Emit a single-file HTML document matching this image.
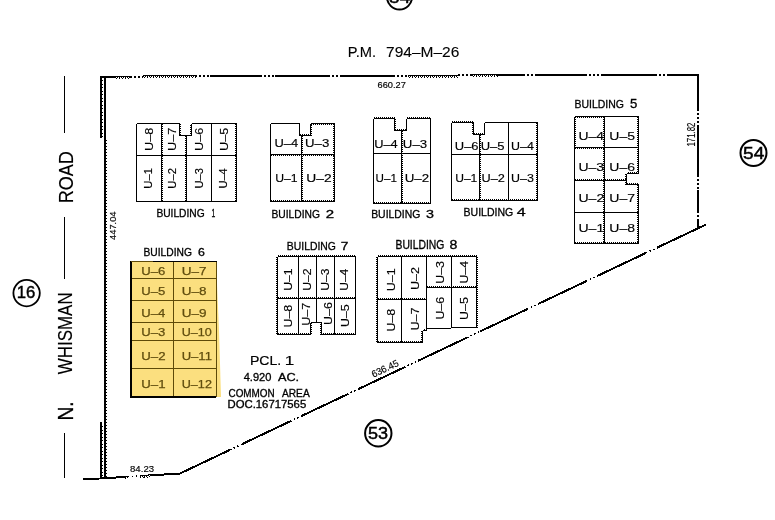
<!DOCTYPE html>
<html><head><meta charset="utf-8"><style>
html,body{margin:0;padding:0;background:#fff;width:775px;height:520px;overflow:hidden}
svg{display:block;will-change:transform}
text{font-family:"Liberation Sans",sans-serif}
</style></head><body>
<svg width="775" height="520" viewBox="0 0 775 520" font-family="Liberation Sans"><style>line,polygon,rect{shape-rendering:crispEdges} circle{shape-rendering:geometricPrecision}</style>
<rect width="775" height="520" fill="#fff"/>
<circle cx="399.5" cy="-3" r="12.5" fill="none" stroke="#000" stroke-width="2"/>
<g transform="translate(399.8,-3) rotate(0)"><text x="-10.76" y="6.00" font-size="17.14" font-weight="normal" fill="#000" stroke="#000" stroke-width="0.5" textLength="21.26" lengthAdjust="spacingAndGlyphs">54</text></g>
<circle cx="753.5" cy="153" r="13" fill="none" stroke="#000" stroke-width="2"/>
<g transform="translate(753.8,153) rotate(0)"><text x="-10.76" y="6.00" font-size="17.14" font-weight="normal" fill="#000" stroke="#000" stroke-width="0.5" textLength="21.26" lengthAdjust="spacingAndGlyphs">54</text></g>
<circle cx="26.6" cy="293.1" r="13.2" fill="none" stroke="#000" stroke-width="1.8"/>
<g transform="translate(26.4,292.6) rotate(0)"><text x="-9.57" y="5.80" font-size="16.57" font-weight="normal" fill="#000" stroke="#000" stroke-width="0.45" textLength="18.57" lengthAdjust="spacingAndGlyphs">16</text></g>
<circle cx="378.3" cy="433.3" r="13.2" fill="none" stroke="#000" stroke-width="2"/>
<g transform="translate(378.1,433.3) rotate(0)"><text x="-10.07" y="6.00" font-size="17.14" font-weight="normal" fill="#000" stroke="#000" stroke-width="0.5" textLength="20.07" lengthAdjust="spacingAndGlyphs">53</text></g>
<g transform="translate(361.9,51.85) rotate(0)"><text x="-14.07" y="4.85" font-size="14.06" font-weight="normal" fill="#000" stroke="#000" stroke-width="0.1" textLength="28.26" lengthAdjust="spacingAndGlyphs">P.M.</text></g>
<g transform="translate(422.75,51.85) rotate(0)"><text x="-36.72" y="4.85" font-size="13.86" font-weight="normal" fill="#000" stroke="#000" stroke-width="0.1" textLength="73.24" lengthAdjust="spacingAndGlyphs">794–M–26</text></g>
<line x1="100" y1="77" x2="115" y2="77" stroke="#000" stroke-width="2"/>
<line x1="115" y1="76.5" x2="130" y2="76.5" stroke="#000" stroke-width="1"/>
<line x1="115" y1="77.5" x2="130" y2="77.5" stroke="#000" stroke-width="1" stroke-dasharray="1 1"/>
<line x1="115.5" y1="78.5" x2="130.5" y2="78.5" stroke="#000" stroke-width="1" stroke-dasharray="1 2"/>
<line x1="130" y1="77" x2="143" y2="77" stroke="#000" stroke-width="1.5" stroke-dasharray="1.5 2.5"/>
<line x1="143" y1="75.5" x2="195" y2="75.5" stroke="#000" stroke-width="1"/>
<line x1="143" y1="76.5" x2="195" y2="76.5" stroke="#000" stroke-width="1" stroke-dasharray="1 1"/>
<line x1="143.5" y1="77.5" x2="195.5" y2="77.5" stroke="#000" stroke-width="1" stroke-dasharray="1 2"/>
<line x1="195" y1="76" x2="210" y2="76" stroke="#000" stroke-width="1.5" stroke-dasharray="1.5 2.5"/>
<line x1="210" y1="76" x2="260" y2="76" stroke="#000" stroke-width="2"/>
<line x1="260" y1="76" x2="275" y2="76" stroke="#000" stroke-width="1.5" stroke-dasharray="1.5 2.5"/>
<line x1="275" y1="76" x2="328" y2="76" stroke="#000" stroke-width="2"/>
<line x1="328" y1="76" x2="340" y2="76" stroke="#000" stroke-width="1.5" stroke-dasharray="1.5 2.5"/>
<line x1="340" y1="76" x2="393" y2="76" stroke="#000" stroke-width="2"/>
<line x1="393" y1="76" x2="408" y2="76" stroke="#000" stroke-width="1.5" stroke-dasharray="1.5 2.5"/>
<line x1="408" y1="75.5" x2="458" y2="75.5" stroke="#000" stroke-width="1"/>
<line x1="408" y1="76.5" x2="458" y2="76.5" stroke="#000" stroke-width="1" stroke-dasharray="1 1"/>
<line x1="408.5" y1="77.5" x2="458.5" y2="77.5" stroke="#000" stroke-width="1" stroke-dasharray="1 2"/>
<line x1="458" y1="75" x2="472" y2="75" stroke="#000" stroke-width="1.5" stroke-dasharray="1.5 2.5"/>
<line x1="472" y1="74.5" x2="497" y2="74.5" stroke="#000" stroke-width="1"/>
<line x1="472" y1="75.5" x2="497" y2="75.5" stroke="#000" stroke-width="1" stroke-dasharray="1 1"/>
<line x1="472.5" y1="76.5" x2="497.5" y2="76.5" stroke="#000" stroke-width="1" stroke-dasharray="1 2"/>
<line x1="497" y1="75" x2="523" y2="75" stroke="#000" stroke-width="2"/>
<line x1="523" y1="75" x2="537" y2="75" stroke="#000" stroke-width="1.5" stroke-dasharray="1.5 2.5"/>
<line x1="537" y1="75" x2="585" y2="75" stroke="#000" stroke-width="2"/>
<line x1="585" y1="75" x2="603" y2="75" stroke="#000" stroke-width="1.5" stroke-dasharray="1.5 2.5"/>
<line x1="603" y1="75" x2="655" y2="75" stroke="#000" stroke-width="2"/>
<line x1="655" y1="75" x2="668" y2="75" stroke="#000" stroke-width="1.5" stroke-dasharray="1.5 2.5"/>
<line x1="668" y1="75" x2="699" y2="75" stroke="#000" stroke-width="2"/>
<line x1="698" y1="74" x2="698" y2="109" stroke="#000" stroke-width="2"/>
<line x1="698" y1="109" x2="698" y2="127" stroke="#000" stroke-width="1.5" stroke-dasharray="1.5 2.5"/>
<line x1="698" y1="127" x2="698" y2="175" stroke="#000" stroke-width="2"/>
<line x1="698" y1="175" x2="698" y2="190" stroke="#000" stroke-width="1.5" stroke-dasharray="1.5 2.5"/>
<line x1="698" y1="190" x2="698" y2="211" stroke="#000" stroke-width="2"/>
<line x1="698" y1="211" x2="698" y2="219" stroke="#000" stroke-width="1.5" stroke-dasharray="1.5 2.5"/>
<line x1="698" y1="219" x2="698" y2="227" stroke="#000" stroke-width="2"/>
<line x1="180" y1="473.5" x2="230" y2="449.83079847908743" stroke="#000" stroke-width="2"/>
<line x1="230" y1="449.83079847908743" x2="242" y2="444.15019011406844" stroke="#000" stroke-width="1.5" stroke-dasharray="1.5 2.5"/>
<line x1="242" y1="444.15019011406844" x2="290" y2="421.4277566539924" stroke="#000" stroke-width="2"/>
<line x1="290" y1="421.4277566539924" x2="301" y2="416.2205323193916" stroke="#000" stroke-width="1.5" stroke-dasharray="1.5 2.5"/>
<line x1="301" y1="416.2205323193916" x2="347" y2="394.4448669201521" stroke="#000" stroke-width="2"/>
<line x1="347" y1="394.4448669201521" x2="359" y2="388.7642585551331" stroke="#000" stroke-width="1.5" stroke-dasharray="1.5 2.5"/>
<line x1="359" y1="388.7642585551331" x2="404" y2="367.4619771863118" stroke="#000" stroke-width="2"/>
<line x1="404" y1="367.4619771863118" x2="418" y2="360.8346007604563" stroke="#000" stroke-width="1.5" stroke-dasharray="1.5 2.5"/>
<line x1="418" y1="360.8346007604563" x2="467" y2="337.638783269962" stroke="#000" stroke-width="2"/>
<line x1="467" y1="337.638783269962" x2="480" y2="331.4847908745247" stroke="#000" stroke-width="1.5" stroke-dasharray="1.5 2.5"/>
<line x1="480" y1="331.4847908745247" x2="527" y2="309.2357414448669" stroke="#000" stroke-width="2"/>
<line x1="527" y1="309.2357414448669" x2="539" y2="303.5551330798479" stroke="#000" stroke-width="1.5" stroke-dasharray="1.5 2.5"/>
<line x1="539" y1="303.5551330798479" x2="586" y2="281.3060836501901" stroke="#000" stroke-width="2"/>
<line x1="586" y1="281.3060836501901" x2="597" y2="276.0988593155894" stroke="#000" stroke-width="1.5" stroke-dasharray="1.5 2.5"/>
<line x1="597" y1="276.0988593155894" x2="646" y2="252.90304182509504" stroke="#000" stroke-width="2"/>
<line x1="646" y1="252.90304182509504" x2="657" y2="247.6958174904943" stroke="#000" stroke-width="1.5" stroke-dasharray="1.5 2.5"/>
<line x1="657" y1="247.6958174904943" x2="706" y2="224.5" stroke="#000" stroke-width="2"/>
<line x1="83.5" y1="479.5" x2="125" y2="476.9329896907216" stroke="#000" stroke-width="2"/>
<line x1="125" y1="476.4329896907216" x2="128" y2="476.2474226804124" stroke="#000" stroke-width="1"/>
<line x1="125" y1="477.4329896907216" x2="128" y2="477.2474226804124" stroke="#000" stroke-width="1" stroke-dasharray="1 1"/>
<line x1="125.5" y1="478.4329896907216" x2="128.5" y2="478.2474226804124" stroke="#000" stroke-width="1" stroke-dasharray="1 2"/>
<line x1="128" y1="476.7474226804124" x2="140" y2="476.00515463917526" stroke="#000" stroke-width="1.5" stroke-dasharray="1.5 2.5"/>
<line x1="140" y1="475.50515463917526" x2="150" y2="474.88659793814435" stroke="#000" stroke-width="1"/>
<line x1="140" y1="476.50515463917526" x2="150" y2="475.88659793814435" stroke="#000" stroke-width="1" stroke-dasharray="1 1"/>
<line x1="140.5" y1="477.50515463917526" x2="150.5" y2="476.88659793814435" stroke="#000" stroke-width="1" stroke-dasharray="1 2"/>
<line x1="150" y1="475.38659793814435" x2="180.5" y2="473.5" stroke="#000" stroke-width="2"/>
<line x1="105" y1="76" x2="105" y2="478.5" stroke="#000" stroke-width="2"/>
<line x1="101" y1="76" x2="101" y2="138" stroke="#000" stroke-width="2"/>
<line x1="106.5" y1="140" x2="106.5" y2="478" stroke="#000" stroke-width="1" stroke-dasharray="1 2"/>
<line x1="101" y1="422" x2="101" y2="478.5" stroke="#000" stroke-width="2"/>
<line x1="102.5" y1="80" x2="102.5" y2="138" stroke="#000" stroke-width="1" stroke-dasharray="1 2.5"/>
<line x1="102.5" y1="426" x2="102.5" y2="478" stroke="#000" stroke-width="1" stroke-dasharray="1 2.5"/>
<line x1="64.5" y1="76" x2="64.5" y2="133" stroke="#000" stroke-width="1"/>
<line x1="64.5" y1="217" x2="64.5" y2="279" stroke="#000" stroke-width="1"/>
<line x1="64.5" y1="433" x2="64.5" y2="478" stroke="#000" stroke-width="1"/>
<g transform="translate(65.6,177) rotate(-90)"><text x="-26.34" y="7.20" font-size="20.57" font-weight="normal" fill="#000" stroke="#000" stroke-width="0.15" textLength="52.00" lengthAdjust="spacingAndGlyphs">ROAD</text></g>
<g transform="translate(65.3,333.9) rotate(-90)"><text x="-40.30" y="7.05" font-size="19.86" font-weight="normal" fill="#000" stroke="#000" stroke-width="0.15" textLength="81.82" lengthAdjust="spacingAndGlyphs">WHISMAN</text></g>
<g transform="translate(65.4,411) rotate(-90)"><text x="-9.54" y="7.50" font-size="21.74" font-weight="normal" fill="#000" stroke="#000" stroke-width="0.3" textLength="19.23" lengthAdjust="spacingAndGlyphs">N.</text></g>
<g transform="translate(391.7,84.85) rotate(0)"><text x="-14.16" y="2.85" font-size="8.14" font-weight="normal" fill="#000" stroke="#000" stroke-width="0.15" textLength="28.29" lengthAdjust="spacingAndGlyphs">660.27</text></g>
<g transform="translate(691.5,134.5) rotate(-90)"><text x="-12.05" y="3.50" font-size="10.00" font-weight="normal" fill="#000" stroke="#000" stroke-width="0.15" textLength="23.91" lengthAdjust="spacingAndGlyphs">171.82</text></g>
<g transform="translate(112.4,225.7) rotate(-90)"><text x="-14.19" y="3.40" font-size="9.71" font-weight="normal" fill="#000" stroke="#000" stroke-width="0.15" textLength="28.43" lengthAdjust="spacingAndGlyphs">447.04</text></g>
<g transform="translate(142.05,468.85) rotate(0)"><text x="-12.03" y="3.15" font-size="9.00" font-weight="normal" fill="#000" stroke="#000" stroke-width="0.15" textLength="24.03" lengthAdjust="spacingAndGlyphs">84.23</text></g>
<g transform="translate(385,368.5) rotate(-25.5)"><text x="-14.47" y="3.40" font-size="9.71" font-weight="normal" fill="#000" stroke="#000" stroke-width="0.15" textLength="28.81" lengthAdjust="spacingAndGlyphs">636.45</text></g>
<line x1="136.5" y1="123.5" x2="179.5" y2="123.5" stroke="#000" stroke-width="1"/>
<line x1="179.5" y1="123.5" x2="179.5" y2="135.5" stroke="#000" stroke-width="1"/>
<line x1="180.5" y1="123.5" x2="180.5" y2="135.5" stroke="#000" stroke-width="1" stroke-dasharray="1 1"/>
<line x1="179.5" y1="135.5" x2="191.5" y2="135.5" stroke="#000" stroke-width="1"/>
<line x1="191.5" y1="135.5" x2="191.5" y2="123.5" stroke="#000" stroke-width="1"/>
<line x1="190.5" y1="135.5" x2="190.5" y2="123.5" stroke="#000" stroke-width="1" stroke-dasharray="1 1"/>
<line x1="191.5" y1="123.5" x2="236.5" y2="123.5" stroke="#000" stroke-width="1"/>
<line x1="236.5" y1="123.5" x2="236.5" y2="201.5" stroke="#000" stroke-width="1"/>
<line x1="235.5" y1="123.5" x2="235.5" y2="201.5" stroke="#000" stroke-width="1" stroke-dasharray="1 1"/>
<line x1="136.5" y1="201.5" x2="236.5" y2="201.5" stroke="#000" stroke-width="1"/>
<line x1="136.5" y1="123.5" x2="136.5" y2="201.5" stroke="#000" stroke-width="1"/>
<line x1="136.5" y1="155.5" x2="236.5" y2="155.5" stroke="#000" stroke-width="1"/>
<line x1="161.5" y1="123.5" x2="161.5" y2="201.5" stroke="#000" stroke-width="1"/>
<line x1="162.5" y1="123.5" x2="162.5" y2="201.5" stroke="#000" stroke-width="1" stroke-dasharray="1 1"/>
<line x1="186.5" y1="135.5" x2="186.5" y2="201.5" stroke="#000" stroke-width="1"/>
<line x1="185.5" y1="135.5" x2="185.5" y2="201.5" stroke="#000" stroke-width="1" stroke-dasharray="1 1"/>
<line x1="211.5" y1="123.5" x2="211.5" y2="201.5" stroke="#000" stroke-width="1"/>
<g transform="translate(148.6,139.1) rotate(-90)"><text x="-11.89" y="4.00" font-size="11.43" font-weight="normal" fill="#000" stroke="#000" stroke-width="0.15" textLength="23.35" lengthAdjust="spacingAndGlyphs">U–8</text></g>
<g transform="translate(148.6,178.2) rotate(-90)"><text x="-10.44" y="3.75" font-size="10.87" font-weight="normal" fill="#000" stroke="#000" stroke-width="0.15" textLength="20.60" lengthAdjust="spacingAndGlyphs">U–1</text></g>
<g transform="translate(172.4,139.1) rotate(-90)"><text x="-11.90" y="4.00" font-size="11.43" font-weight="normal" fill="#000" stroke="#000" stroke-width="0.15" textLength="23.49" lengthAdjust="spacingAndGlyphs">U–7</text></g>
<g transform="translate(172.4,178.2) rotate(-90)"><text x="-10.44" y="3.75" font-size="10.71" font-weight="normal" fill="#000" stroke="#000" stroke-width="0.15" textLength="20.60" lengthAdjust="spacingAndGlyphs">U–2</text></g>
<g transform="translate(199.4,139.1) rotate(-90)"><text x="-11.89" y="4.00" font-size="11.43" font-weight="normal" fill="#000" stroke="#000" stroke-width="0.15" textLength="23.35" lengthAdjust="spacingAndGlyphs">U–6</text></g>
<g transform="translate(199.4,178.2) rotate(-90)"><text x="-10.43" y="3.75" font-size="10.71" font-weight="normal" fill="#000" stroke="#000" stroke-width="0.15" textLength="20.49" lengthAdjust="spacingAndGlyphs">U–3</text></g>
<g transform="translate(223.6,139.1) rotate(-90)"><text x="-11.89" y="4.00" font-size="11.59" font-weight="normal" fill="#000" stroke="#000" stroke-width="0.15" textLength="23.35" lengthAdjust="spacingAndGlyphs">U–5</text></g>
<g transform="translate(223.6,178.2) rotate(-90)"><text x="-10.43" y="3.75" font-size="10.71" font-weight="normal" fill="#000" stroke="#000" stroke-width="0.15" textLength="20.37" lengthAdjust="spacingAndGlyphs">U–4</text></g>
<g transform="translate(180.6,213.0) rotate(0)"><text x="-24.22" y="4.00" font-size="11.43" font-weight="normal" fill="#000" stroke="#000" stroke-width="0.32" textLength="48.31" lengthAdjust="spacingAndGlyphs">BUILDING</text></g>
<g transform="translate(213.5,213.0) rotate(0)"><text x="-1.98" y="4.00" font-size="11.59" font-weight="normal" fill="#000" stroke="#000" stroke-width="0.32" textLength="3.79" lengthAdjust="spacingAndGlyphs">1</text></g>
<line x1="270.5" y1="123.5" x2="299.5" y2="123.5" stroke="#000" stroke-width="1"/>
<line x1="299.5" y1="123.5" x2="299.5" y2="135.5" stroke="#000" stroke-width="1"/>
<line x1="299.5" y1="135.5" x2="310.5" y2="135.5" stroke="#000" stroke-width="1"/>
<line x1="299.5" y1="134.5" x2="310.5" y2="134.5" stroke="#000" stroke-width="1" stroke-dasharray="1 1"/>
<line x1="310.5" y1="135.5" x2="310.5" y2="123.5" stroke="#000" stroke-width="1"/>
<line x1="311.5" y1="135.5" x2="311.5" y2="123.5" stroke="#000" stroke-width="1" stroke-dasharray="1 1"/>
<line x1="310.5" y1="123.5" x2="334.5" y2="123.5" stroke="#000" stroke-width="1"/>
<line x1="310.5" y1="124.5" x2="334.5" y2="124.5" stroke="#000" stroke-width="1" stroke-dasharray="1 1"/>
<line x1="334.5" y1="123.5" x2="334.5" y2="201.5" stroke="#000" stroke-width="1"/>
<line x1="333.5" y1="123.5" x2="333.5" y2="201.5" stroke="#000" stroke-width="1" stroke-dasharray="1 1"/>
<line x1="270.5" y1="201.5" x2="334.5" y2="201.5" stroke="#000" stroke-width="1"/>
<line x1="270.5" y1="200.5" x2="334.5" y2="200.5" stroke="#000" stroke-width="1" stroke-dasharray="1 1"/>
<line x1="270.5" y1="123.5" x2="270.5" y2="201.5" stroke="#000" stroke-width="1"/>
<line x1="270.5" y1="154.5" x2="334.5" y2="154.5" stroke="#000" stroke-width="1"/>
<line x1="270.5" y1="155.5" x2="334.5" y2="155.5" stroke="#000" stroke-width="1" stroke-dasharray="1 1"/>
<line x1="301.5" y1="135.5" x2="301.5" y2="201.5" stroke="#000" stroke-width="1"/>
<line x1="302.5" y1="135.5" x2="302.5" y2="201.5" stroke="#000" stroke-width="1" stroke-dasharray="1 1"/>
<g transform="translate(286.6,143.3) rotate(0)"><text x="-12.10" y="3.75" font-size="10.71" font-weight="normal" fill="#000" stroke="#000" stroke-width="0.15" textLength="23.64" lengthAdjust="spacingAndGlyphs">U–4</text></g>
<g transform="translate(317.4,143.3) rotate(0)"><text x="-12.32" y="3.75" font-size="10.71" font-weight="normal" fill="#000" stroke="#000" stroke-width="0.15" textLength="24.20" lengthAdjust="spacingAndGlyphs">U–3</text></g>
<g transform="translate(286.6,178.1) rotate(0)"><text x="-11.36" y="3.75" font-size="10.87" font-weight="normal" fill="#000" stroke="#000" stroke-width="0.15" textLength="22.42" lengthAdjust="spacingAndGlyphs">U–1</text></g>
<g transform="translate(319.1,178.1) rotate(0)"><text x="-12.82" y="3.75" font-size="10.71" font-weight="normal" fill="#000" stroke="#000" stroke-width="0.15" textLength="25.30" lengthAdjust="spacingAndGlyphs">U–2</text></g>
<g transform="translate(295.7,214.4) rotate(0)"><text x="-24.32" y="4.00" font-size="11.43" font-weight="normal" fill="#000" stroke="#000" stroke-width="0.32" textLength="48.52" lengthAdjust="spacingAndGlyphs">BUILDING</text></g>
<g transform="translate(329.85,214.4) rotate(0)"><text x="-4.20" y="4.00" font-size="11.43" font-weight="normal" fill="#000" stroke="#000" stroke-width="0.32" textLength="8.34" lengthAdjust="spacingAndGlyphs">2</text></g>
<line x1="373.5" y1="118.5" x2="394.5" y2="118.5" stroke="#000" stroke-width="1"/>
<line x1="373.5" y1="117.5" x2="394.5" y2="117.5" stroke="#000" stroke-width="1" stroke-dasharray="1 1"/>
<line x1="394.5" y1="118.5" x2="394.5" y2="130.5" stroke="#000" stroke-width="1"/>
<line x1="395.5" y1="118.5" x2="395.5" y2="130.5" stroke="#000" stroke-width="1" stroke-dasharray="1 1"/>
<line x1="394.5" y1="130.5" x2="406.5" y2="130.5" stroke="#000" stroke-width="1"/>
<line x1="394.5" y1="129.5" x2="406.5" y2="129.5" stroke="#000" stroke-width="1" stroke-dasharray="1 1"/>
<line x1="406.5" y1="130.5" x2="406.5" y2="118.5" stroke="#000" stroke-width="1"/>
<line x1="406.5" y1="118.5" x2="430.5" y2="118.5" stroke="#000" stroke-width="1"/>
<line x1="406.5" y1="117.5" x2="430.5" y2="117.5" stroke="#000" stroke-width="1" stroke-dasharray="1 1"/>
<line x1="430.5" y1="118.5" x2="430.5" y2="203.5" stroke="#000" stroke-width="1"/>
<line x1="373.5" y1="203.5" x2="430.5" y2="203.5" stroke="#000" stroke-width="1"/>
<line x1="373.5" y1="202.5" x2="430.5" y2="202.5" stroke="#000" stroke-width="1" stroke-dasharray="1 1"/>
<line x1="373.5" y1="118.5" x2="373.5" y2="203.5" stroke="#000" stroke-width="1"/>
<line x1="373.5" y1="153.5" x2="430.5" y2="153.5" stroke="#000" stroke-width="1"/>
<line x1="401.5" y1="130.5" x2="401.5" y2="203.5" stroke="#000" stroke-width="1"/>
<line x1="402.5" y1="130.5" x2="402.5" y2="203.5" stroke="#000" stroke-width="1" stroke-dasharray="1 1"/>
<g transform="translate(386.2,143.5) rotate(0)"><text x="-12.05" y="4.00" font-size="11.43" font-weight="normal" fill="#000" stroke="#000" stroke-width="0.15" textLength="23.53" lengthAdjust="spacingAndGlyphs">U–4</text></g>
<g transform="translate(415.2,143.5) rotate(0)"><text x="-12.38" y="4.00" font-size="11.43" font-weight="normal" fill="#000" stroke="#000" stroke-width="0.15" textLength="24.31" lengthAdjust="spacingAndGlyphs">U–3</text></g>
<g transform="translate(386.4,178.2) rotate(0)"><text x="-10.81" y="4.00" font-size="11.59" font-weight="normal" fill="#000" stroke="#000" stroke-width="0.15" textLength="21.35" lengthAdjust="spacingAndGlyphs">U–1</text></g>
<g transform="translate(417,178.2) rotate(0)"><text x="-12.38" y="4.00" font-size="11.43" font-weight="normal" fill="#000" stroke="#000" stroke-width="0.15" textLength="24.45" lengthAdjust="spacingAndGlyphs">U–2</text></g>
<g transform="translate(395.8,214.2) rotate(0)"><text x="-24.63" y="4.00" font-size="11.43" font-weight="normal" fill="#000" stroke="#000" stroke-width="0.32" textLength="49.14" lengthAdjust="spacingAndGlyphs">BUILDING</text></g>
<g transform="translate(430.0,214.2) rotate(0)"><text x="-3.93" y="4.00" font-size="11.43" font-weight="normal" fill="#000" stroke="#000" stroke-width="0.32" textLength="7.95" lengthAdjust="spacingAndGlyphs">3</text></g>
<line x1="451.5" y1="122.5" x2="473.5" y2="122.5" stroke="#000" stroke-width="1"/>
<line x1="451.5" y1="121.5" x2="473.5" y2="121.5" stroke="#000" stroke-width="1" stroke-dasharray="1 1"/>
<line x1="473.5" y1="122.5" x2="473.5" y2="134.5" stroke="#000" stroke-width="1"/>
<line x1="472.5" y1="122.5" x2="472.5" y2="134.5" stroke="#000" stroke-width="1" stroke-dasharray="1 1"/>
<line x1="473.5" y1="134.5" x2="484.5" y2="134.5" stroke="#000" stroke-width="1"/>
<line x1="473.5" y1="133.5" x2="484.5" y2="133.5" stroke="#000" stroke-width="1" stroke-dasharray="1 1"/>
<line x1="484.5" y1="134.5" x2="484.5" y2="122.5" stroke="#000" stroke-width="1"/>
<line x1="484.5" y1="122.5" x2="537.5" y2="122.5" stroke="#000" stroke-width="1"/>
<line x1="537.5" y1="122.5" x2="537.5" y2="200.5" stroke="#000" stroke-width="1"/>
<line x1="536.5" y1="122.5" x2="536.5" y2="200.5" stroke="#000" stroke-width="1" stroke-dasharray="1 1"/>
<line x1="451.5" y1="200.5" x2="537.5" y2="200.5" stroke="#000" stroke-width="1"/>
<line x1="451.5" y1="199.5" x2="537.5" y2="199.5" stroke="#000" stroke-width="1" stroke-dasharray="1 1"/>
<line x1="451.5" y1="122.5" x2="451.5" y2="200.5" stroke="#000" stroke-width="1"/>
<line x1="451.5" y1="154.5" x2="537.5" y2="154.5" stroke="#000" stroke-width="1"/>
<line x1="479.5" y1="134.5" x2="479.5" y2="200.5" stroke="#000" stroke-width="1"/>
<line x1="480.5" y1="134.5" x2="480.5" y2="200.5" stroke="#000" stroke-width="1" stroke-dasharray="1 1"/>
<line x1="508.5" y1="122.5" x2="508.5" y2="200.5" stroke="#000" stroke-width="1"/>
<g transform="translate(466.9,145.7) rotate(0)"><text x="-12.11" y="3.90" font-size="11.14" font-weight="normal" fill="#000" stroke="#000" stroke-width="0.15" textLength="23.78" lengthAdjust="spacingAndGlyphs">U–6</text></g>
<g transform="translate(492.8,145.7) rotate(0)"><text x="-12.16" y="3.90" font-size="11.30" font-weight="normal" fill="#000" stroke="#000" stroke-width="0.15" textLength="23.88" lengthAdjust="spacingAndGlyphs">U–5</text></g>
<g transform="translate(522.7,145.7) rotate(0)"><text x="-11.67" y="3.90" font-size="11.14" font-weight="normal" fill="#000" stroke="#000" stroke-width="0.15" textLength="22.79" lengthAdjust="spacingAndGlyphs">U–4</text></g>
<g transform="translate(466.4,177.7) rotate(0)"><text x="-11.25" y="3.90" font-size="11.30" font-weight="normal" fill="#000" stroke="#000" stroke-width="0.15" textLength="22.21" lengthAdjust="spacingAndGlyphs">U–1</text></g>
<g transform="translate(493.4,177.7) rotate(0)"><text x="-11.84" y="3.90" font-size="11.14" font-weight="normal" fill="#000" stroke="#000" stroke-width="0.15" textLength="23.38" lengthAdjust="spacingAndGlyphs">U–2</text></g>
<g transform="translate(522.7,177.7) rotate(0)"><text x="-11.62" y="3.90" font-size="11.14" font-weight="normal" fill="#000" stroke="#000" stroke-width="0.15" textLength="22.82" lengthAdjust="spacingAndGlyphs">U–3</text></g>
<g transform="translate(488.45,211.85000000000002) rotate(0)"><text x="-24.89" y="4.05" font-size="11.57" font-weight="normal" fill="#000" stroke="#000" stroke-width="0.32" textLength="49.65" lengthAdjust="spacingAndGlyphs">BUILDING</text></g>
<g transform="translate(521.1,211.85000000000002) rotate(0)"><text x="-4.42" y="4.05" font-size="11.57" font-weight="normal" fill="#000" stroke="#000" stroke-width="0.32" textLength="8.94" lengthAdjust="spacingAndGlyphs">4</text></g>
<g transform="translate(599.25,104.0) rotate(0)"><text x="-24.79" y="4.10" font-size="11.71" font-weight="normal" fill="#000" stroke="#000" stroke-width="0.32" textLength="49.45" lengthAdjust="spacingAndGlyphs">BUILDING</text></g>
<g transform="translate(633.65,104.0) rotate(0)"><text x="-3.67" y="4.10" font-size="11.88" font-weight="normal" fill="#000" stroke="#000" stroke-width="0.32" textLength="7.30" lengthAdjust="spacingAndGlyphs">5</text></g>
<line x1="574.5" y1="116.5" x2="604.5" y2="116.5" stroke="#000" stroke-width="1"/>
<line x1="574.5" y1="117.5" x2="604.5" y2="117.5" stroke="#000" stroke-width="1" stroke-dasharray="1 1"/>
<line x1="604.5" y1="116.5" x2="638.5" y2="116.5" stroke="#000" stroke-width="1"/>
<line x1="638.5" y1="116.5" x2="638.5" y2="173.5" stroke="#000" stroke-width="1"/>
<line x1="637.5" y1="116.5" x2="637.5" y2="173.5" stroke="#000" stroke-width="1" stroke-dasharray="1 1"/>
<line x1="638.5" y1="173.5" x2="626.5" y2="173.5" stroke="#000" stroke-width="1"/>
<line x1="638.5" y1="172.5" x2="626.5" y2="172.5" stroke="#000" stroke-width="1" stroke-dasharray="1 1"/>
<line x1="626.5" y1="173.5" x2="626.5" y2="184.5" stroke="#000" stroke-width="1"/>
<line x1="625.5" y1="173.5" x2="625.5" y2="184.5" stroke="#000" stroke-width="1" stroke-dasharray="1 1"/>
<line x1="626.5" y1="184.5" x2="638.5" y2="184.5" stroke="#000" stroke-width="1"/>
<line x1="626.5" y1="183.5" x2="638.5" y2="183.5" stroke="#000" stroke-width="1" stroke-dasharray="1 1"/>
<line x1="638.5" y1="184.5" x2="638.5" y2="243.5" stroke="#000" stroke-width="1"/>
<line x1="637.5" y1="184.5" x2="637.5" y2="243.5" stroke="#000" stroke-width="1" stroke-dasharray="1 1"/>
<line x1="574.5" y1="243.5" x2="638.5" y2="243.5" stroke="#000" stroke-width="1"/>
<line x1="574.5" y1="242.5" x2="638.5" y2="242.5" stroke="#000" stroke-width="1" stroke-dasharray="1 1"/>
<line x1="574.5" y1="116.5" x2="574.5" y2="147.5" stroke="#000" stroke-width="1"/>
<line x1="575.5" y1="116.5" x2="575.5" y2="147.5" stroke="#000" stroke-width="1" stroke-dasharray="1 1"/>
<line x1="574.5" y1="147.5" x2="574.5" y2="243.5" stroke="#000" stroke-width="1"/>
<line x1="574.5" y1="147.5" x2="604.5" y2="147.5" stroke="#000" stroke-width="1"/>
<line x1="574.5" y1="148.5" x2="604.5" y2="148.5" stroke="#000" stroke-width="1" stroke-dasharray="1 1"/>
<line x1="604.5" y1="147.5" x2="638.5" y2="147.5" stroke="#000" stroke-width="1"/>
<line x1="574.5" y1="180.5" x2="626.5" y2="180.5" stroke="#000" stroke-width="1"/>
<line x1="574.5" y1="179.5" x2="626.5" y2="179.5" stroke="#000" stroke-width="1" stroke-dasharray="1 1"/>
<line x1="574.5" y1="212.5" x2="638.5" y2="212.5" stroke="#000" stroke-width="1"/>
<line x1="604.5" y1="116.5" x2="604.5" y2="243.5" stroke="#000" stroke-width="1"/>
<line x1="603.5" y1="116.5" x2="603.5" y2="243.5" stroke="#000" stroke-width="1" stroke-dasharray="1 1"/>
<g transform="translate(591.5,135.5) rotate(0)"><text x="-13.07" y="4.00" font-size="11.43" font-weight="normal" fill="#000" stroke="#000" stroke-width="0.15" textLength="25.54" lengthAdjust="spacingAndGlyphs">U–4</text></g>
<g transform="translate(622.4,135.5) rotate(0)"><text x="-13.08" y="4.00" font-size="11.59" font-weight="normal" fill="#000" stroke="#000" stroke-width="0.15" textLength="25.69" lengthAdjust="spacingAndGlyphs">U–5</text></g>
<g transform="translate(591.5,167.2) rotate(0)"><text x="-13.08" y="4.00" font-size="11.43" font-weight="normal" fill="#000" stroke="#000" stroke-width="0.15" textLength="25.69" lengthAdjust="spacingAndGlyphs">U–3</text></g>
<g transform="translate(622.4,167.2) rotate(0)"><text x="-13.08" y="4.00" font-size="11.43" font-weight="normal" fill="#000" stroke="#000" stroke-width="0.15" textLength="25.69" lengthAdjust="spacingAndGlyphs">U–6</text></g>
<g transform="translate(591.5,198.1) rotate(0)"><text x="-13.09" y="4.00" font-size="11.43" font-weight="normal" fill="#000" stroke="#000" stroke-width="0.15" textLength="25.84" lengthAdjust="spacingAndGlyphs">U–2</text></g>
<g transform="translate(622.4,198.1) rotate(0)"><text x="-13.09" y="4.00" font-size="11.43" font-weight="normal" fill="#000" stroke="#000" stroke-width="0.15" textLength="25.84" lengthAdjust="spacingAndGlyphs">U–7</text></g>
<g transform="translate(591.5,228.2) rotate(0)"><text x="-13.09" y="4.00" font-size="11.59" font-weight="normal" fill="#000" stroke="#000" stroke-width="0.15" textLength="25.84" lengthAdjust="spacingAndGlyphs">U–1</text></g>
<g transform="translate(622.4,228.2) rotate(0)"><text x="-13.08" y="4.00" font-size="11.43" font-weight="normal" fill="#000" stroke="#000" stroke-width="0.15" textLength="25.69" lengthAdjust="spacingAndGlyphs">U–8</text></g>
<polygon points="131,261 216,261 219,330 221,397 131,397" fill="#FBDF7F" style="shape-rendering:geometricPrecision"/>
<line x1="131" y1="278.5" x2="216" y2="278.5" stroke="#5E4A08" stroke-width="1"/>
<line x1="131" y1="300.5" x2="216" y2="300.5" stroke="#5E4A08" stroke-width="1"/>
<line x1="131" y1="322" x2="216" y2="322" stroke="#5E4A08" stroke-width="1"/>
<line x1="131" y1="340" x2="216" y2="340" stroke="#5E4A08" stroke-width="1"/>
<line x1="131" y1="368.5" x2="216" y2="368.5" stroke="#5E4A08" stroke-width="1"/>
<line x1="173.5" y1="261.5" x2="173.5" y2="396.5" stroke="#5E4A08" stroke-width="1"/>
<line x1="216.5" y1="261" x2="216.5" y2="397" stroke="#5E4A08" stroke-width="1"/>
<line x1="130.8" y1="261" x2="130.8" y2="397.5" stroke="#000" stroke-width="1.6"/>
<line x1="131" y1="396.8" x2="216" y2="396.8" stroke="#000" stroke-width="1.4"/>
<line x1="153" y1="261.5" x2="216.5" y2="261.5" stroke="#000" stroke-width="1.4"/>
<line x1="131" y1="261.5" x2="153" y2="261.5" stroke="#5E4A08" stroke-width="1"/>
<g transform="translate(167.75,251.7) rotate(0)"><text x="-24.27" y="3.90" font-size="11.14" font-weight="normal" fill="#000" stroke="#000" stroke-width="0.32" textLength="48.42" lengthAdjust="spacingAndGlyphs">BUILDING</text></g>
<g transform="translate(201.4,251.7) rotate(0)"><text x="-3.52" y="3.90" font-size="11.14" font-weight="normal" fill="#000" stroke="#000" stroke-width="0.32" textLength="6.86" lengthAdjust="spacingAndGlyphs">6</text></g>
<g transform="translate(153.6,271) rotate(0)"><text x="-12.27" y="4.00" font-size="11.43" font-weight="normal" fill="#604D0E" stroke="#604D0E" stroke-width="0.25" textLength="24.09" lengthAdjust="spacingAndGlyphs">U–6</text></g>
<g transform="translate(194.25,271) rotate(0)"><text x="-12.60" y="4.00" font-size="11.43" font-weight="normal" fill="#604D0E" stroke="#604D0E" stroke-width="0.25" textLength="24.87" lengthAdjust="spacingAndGlyphs">U–7</text></g>
<g transform="translate(153.6,291.3) rotate(0)"><text x="-12.27" y="4.00" font-size="11.59" font-weight="normal" fill="#604D0E" stroke="#604D0E" stroke-width="0.25" textLength="24.09" lengthAdjust="spacingAndGlyphs">U–5</text></g>
<g transform="translate(194.25,291.3) rotate(0)"><text x="-12.59" y="4.00" font-size="11.43" font-weight="normal" fill="#604D0E" stroke="#604D0E" stroke-width="0.25" textLength="24.73" lengthAdjust="spacingAndGlyphs">U–8</text></g>
<g transform="translate(153.6,312.6) rotate(0)"><text x="-12.26" y="4.00" font-size="11.43" font-weight="normal" fill="#604D0E" stroke="#604D0E" stroke-width="0.25" textLength="23.96" lengthAdjust="spacingAndGlyphs">U–4</text></g>
<g transform="translate(194.25,312.6) rotate(0)"><text x="-12.60" y="4.00" font-size="11.43" font-weight="normal" fill="#604D0E" stroke="#604D0E" stroke-width="0.25" textLength="24.87" lengthAdjust="spacingAndGlyphs">U–9</text></g>
<g transform="translate(153.6,331.8) rotate(0)"><text x="-12.27" y="4.00" font-size="11.43" font-weight="normal" fill="#604D0E" stroke="#604D0E" stroke-width="0.25" textLength="24.09" lengthAdjust="spacingAndGlyphs">U–3</text></g>
<g transform="translate(196.95,331.8) rotate(0)"><text x="-15.23" y="4.00" font-size="11.43" font-weight="normal" fill="#604D0E" stroke="#604D0E" stroke-width="0.25" textLength="30.03" lengthAdjust="spacingAndGlyphs">U–10</text></g>
<g transform="translate(153.6,355.8) rotate(0)"><text x="-12.27" y="4.00" font-size="11.43" font-weight="normal" fill="#604D0E" stroke="#604D0E" stroke-width="0.25" textLength="24.23" lengthAdjust="spacingAndGlyphs">U–2</text></g>
<g transform="translate(196.95,355.8) rotate(0)"><text x="-15.26" y="4.00" font-size="11.59" font-weight="normal" fill="#604D0E" stroke="#604D0E" stroke-width="0.25" textLength="30.22" lengthAdjust="spacingAndGlyphs">U–11</text></g>
<g transform="translate(153.6,383.7) rotate(0)"><text x="-12.27" y="4.00" font-size="11.59" font-weight="normal" fill="#604D0E" stroke="#604D0E" stroke-width="0.25" textLength="24.23" lengthAdjust="spacingAndGlyphs">U–1</text></g>
<g transform="translate(196.95,383.7) rotate(0)"><text x="-15.23" y="4.00" font-size="11.43" font-weight="normal" fill="#604D0E" stroke="#604D0E" stroke-width="0.25" textLength="30.17" lengthAdjust="spacingAndGlyphs">U–12</text></g>
<g transform="translate(311.45,245.5) rotate(0)"><text x="-24.58" y="4.10" font-size="11.71" font-weight="normal" fill="#000" stroke="#000" stroke-width="0.32" textLength="49.03" lengthAdjust="spacingAndGlyphs">BUILDING</text></g>
<g transform="translate(344.65,245.5) rotate(0)"><text x="-3.83" y="4.10" font-size="11.71" font-weight="normal" fill="#000" stroke="#000" stroke-width="0.32" textLength="7.62" lengthAdjust="spacingAndGlyphs">7</text></g>
<line x1="277.5" y1="256.5" x2="355.5" y2="256.5" stroke="#000" stroke-width="1"/>
<line x1="277.5" y1="255.5" x2="355.5" y2="255.5" stroke="#000" stroke-width="1" stroke-dasharray="1 1"/>
<line x1="355.5" y1="256.5" x2="355.5" y2="334.5" stroke="#000" stroke-width="1"/>
<line x1="355.5" y1="334.5" x2="321.5" y2="334.5" stroke="#000" stroke-width="1"/>
<line x1="355.5" y1="333.5" x2="321.5" y2="333.5" stroke="#000" stroke-width="1" stroke-dasharray="1 1"/>
<line x1="321.5" y1="334.5" x2="321.5" y2="322.5" stroke="#000" stroke-width="1"/>
<line x1="320.5" y1="334.5" x2="320.5" y2="322.5" stroke="#000" stroke-width="1" stroke-dasharray="1 1"/>
<line x1="321.5" y1="322.5" x2="310.5" y2="322.5" stroke="#000" stroke-width="1"/>
<line x1="310.5" y1="322.5" x2="310.5" y2="334.5" stroke="#000" stroke-width="1"/>
<line x1="311.5" y1="322.5" x2="311.5" y2="334.5" stroke="#000" stroke-width="1" stroke-dasharray="1 1"/>
<line x1="310.5" y1="334.5" x2="277.5" y2="334.5" stroke="#000" stroke-width="1"/>
<line x1="310.5" y1="333.5" x2="277.5" y2="333.5" stroke="#000" stroke-width="1" stroke-dasharray="1 1"/>
<line x1="277.5" y1="256.5" x2="277.5" y2="334.5" stroke="#000" stroke-width="1"/>
<line x1="276.5" y1="256.5" x2="276.5" y2="334.5" stroke="#000" stroke-width="1" stroke-dasharray="1 1"/>
<line x1="277.5" y1="298.5" x2="355.5" y2="298.5" stroke="#000" stroke-width="1"/>
<line x1="277.5" y1="297.5" x2="355.5" y2="297.5" stroke="#000" stroke-width="1" stroke-dasharray="1 1"/>
<line x1="298.5" y1="256.5" x2="298.5" y2="334.5" stroke="#000" stroke-width="1"/>
<line x1="316.5" y1="256.5" x2="316.5" y2="322.5" stroke="#000" stroke-width="1"/>
<line x1="334.5" y1="256.5" x2="334.5" y2="334.5" stroke="#000" stroke-width="1"/>
<g transform="translate(288,279.5) rotate(-90)"><text x="-11.36" y="3.80" font-size="11.01" font-weight="normal" fill="#000" stroke="#000" stroke-width="0.15" textLength="22.42" lengthAdjust="spacingAndGlyphs">U–1</text></g>
<g transform="translate(288,316) rotate(-90)"><text x="-11.62" y="3.80" font-size="10.86" font-weight="normal" fill="#000" stroke="#000" stroke-width="0.15" textLength="22.82" lengthAdjust="spacingAndGlyphs">U–8</text></g>
<g transform="translate(307,279.5) rotate(-90)"><text x="-11.36" y="3.80" font-size="10.86" font-weight="normal" fill="#000" stroke="#000" stroke-width="0.15" textLength="22.42" lengthAdjust="spacingAndGlyphs">U–2</text></g>
<g transform="translate(305.8,314.2) rotate(-90)"><text x="-11.63" y="3.80" font-size="10.86" font-weight="normal" fill="#000" stroke="#000" stroke-width="0.15" textLength="22.95" lengthAdjust="spacingAndGlyphs">U–7</text></g>
<g transform="translate(325.2,279.5) rotate(-90)"><text x="-11.35" y="3.80" font-size="10.86" font-weight="normal" fill="#000" stroke="#000" stroke-width="0.15" textLength="22.29" lengthAdjust="spacingAndGlyphs">U–3</text></g>
<g transform="translate(327.8,313.4) rotate(-90)"><text x="-11.62" y="3.80" font-size="10.86" font-weight="normal" fill="#000" stroke="#000" stroke-width="0.15" textLength="22.82" lengthAdjust="spacingAndGlyphs">U–6</text></g>
<g transform="translate(343.8,279.5) rotate(-90)"><text x="-11.35" y="3.80" font-size="10.86" font-weight="normal" fill="#000" stroke="#000" stroke-width="0.15" textLength="22.16" lengthAdjust="spacingAndGlyphs">U–4</text></g>
<g transform="translate(344.7,315.5) rotate(-90)"><text x="-11.62" y="3.80" font-size="11.01" font-weight="normal" fill="#000" stroke="#000" stroke-width="0.15" textLength="22.82" lengthAdjust="spacingAndGlyphs">U–5</text></g>
<g transform="translate(420.0,244.95) rotate(0)"><text x="-24.53" y="4.15" font-size="11.86" font-weight="normal" fill="#000" stroke="#000" stroke-width="0.32" textLength="48.93" lengthAdjust="spacingAndGlyphs">BUILDING</text></g>
<g transform="translate(453.4,244.95) rotate(0)"><text x="-3.97" y="4.15" font-size="11.86" font-weight="normal" fill="#000" stroke="#000" stroke-width="0.32" textLength="7.88" lengthAdjust="spacingAndGlyphs">8</text></g>
<line x1="377.5" y1="256.5" x2="476.5" y2="256.5" stroke="#000" stroke-width="1"/>
<line x1="377.5" y1="255.5" x2="476.5" y2="255.5" stroke="#000" stroke-width="1" stroke-dasharray="1 1"/>
<line x1="476.5" y1="256.5" x2="476.5" y2="327.5" stroke="#000" stroke-width="1"/>
<line x1="477.5" y1="256.5" x2="477.5" y2="327.5" stroke="#000" stroke-width="1" stroke-dasharray="1 1"/>
<line x1="476.5" y1="327.5" x2="426.5" y2="328.5" stroke="#000" stroke-width="1"/>
<line x1="426.5" y1="328.5" x2="426.5" y2="330.5" stroke="#000" stroke-width="1"/>
<line x1="426.5" y1="330.5" x2="422.5" y2="330.5" stroke="#000" stroke-width="1"/>
<line x1="426.5" y1="329.5" x2="422.5" y2="329.5" stroke="#000" stroke-width="1" stroke-dasharray="1 1"/>
<line x1="422.5" y1="330.5" x2="422.5" y2="342.5" stroke="#000" stroke-width="1"/>
<line x1="421.5" y1="330.5" x2="421.5" y2="342.5" stroke="#000" stroke-width="1" stroke-dasharray="1 1"/>
<line x1="422.5" y1="342.5" x2="377.5" y2="342.5" stroke="#000" stroke-width="1"/>
<line x1="422.5" y1="341.5" x2="377.5" y2="341.5" stroke="#000" stroke-width="1" stroke-dasharray="1 1"/>
<line x1="377.5" y1="256.5" x2="377.5" y2="342.5" stroke="#000" stroke-width="1"/>
<line x1="376.5" y1="256.5" x2="376.5" y2="342.5" stroke="#000" stroke-width="1" stroke-dasharray="1 1"/>
<line x1="401.5" y1="256.5" x2="401.5" y2="342.5" stroke="#000" stroke-width="1"/>
<line x1="426.5" y1="256.5" x2="426.5" y2="330.5" stroke="#000" stroke-width="1"/>
<line x1="451.5" y1="256.5" x2="451.5" y2="327.5" stroke="#000" stroke-width="1"/>
<line x1="377.5" y1="299.5" x2="426.5" y2="299.5" stroke="#000" stroke-width="1"/>
<line x1="377.5" y1="298.5" x2="426.5" y2="298.5" stroke="#000" stroke-width="1" stroke-dasharray="1 1"/>
<line x1="426.5" y1="287.5" x2="476.5" y2="287.5" stroke="#000" stroke-width="1"/>
<line x1="426.5" y1="286.5" x2="476.5" y2="286.5" stroke="#000" stroke-width="1" stroke-dasharray="1 1"/>
<g transform="translate(391,279.6) rotate(-90)"><text x="-11.63" y="4.00" font-size="11.59" font-weight="normal" fill="#000" stroke="#000" stroke-width="0.15" textLength="22.95" lengthAdjust="spacingAndGlyphs">U–1</text></g>
<g transform="translate(414.5,278.3) rotate(-90)"><text x="-11.63" y="4.00" font-size="11.43" font-weight="normal" fill="#000" stroke="#000" stroke-width="0.15" textLength="22.95" lengthAdjust="spacingAndGlyphs">U–2</text></g>
<g transform="translate(439.5,272.2) rotate(-90)"><text x="-11.62" y="4.00" font-size="11.43" font-weight="normal" fill="#000" stroke="#000" stroke-width="0.15" textLength="22.82" lengthAdjust="spacingAndGlyphs">U–3</text></g>
<g transform="translate(463.5,272) rotate(-90)"><text x="-11.62" y="4.00" font-size="11.43" font-weight="normal" fill="#000" stroke="#000" stroke-width="0.15" textLength="22.69" lengthAdjust="spacingAndGlyphs">U–4</text></g>
<g transform="translate(391,320) rotate(-90)"><text x="-11.62" y="4.00" font-size="11.43" font-weight="normal" fill="#000" stroke="#000" stroke-width="0.15" textLength="22.82" lengthAdjust="spacingAndGlyphs">U–8</text></g>
<g transform="translate(415,318.8) rotate(-90)"><text x="-11.63" y="4.00" font-size="11.43" font-weight="normal" fill="#000" stroke="#000" stroke-width="0.15" textLength="22.95" lengthAdjust="spacingAndGlyphs">U–7</text></g>
<g transform="translate(439.5,308) rotate(-90)"><text x="-11.62" y="4.00" font-size="11.43" font-weight="normal" fill="#000" stroke="#000" stroke-width="0.15" textLength="22.82" lengthAdjust="spacingAndGlyphs">U–6</text></g>
<g transform="translate(463.5,308.4) rotate(-90)"><text x="-11.62" y="4.00" font-size="11.59" font-weight="normal" fill="#000" stroke="#000" stroke-width="0.15" textLength="22.82" lengthAdjust="spacingAndGlyphs">U–5</text></g>
<g transform="translate(265.5,360.3) rotate(0)"><text x="-15.63" y="4.50" font-size="12.86" font-weight="normal" fill="#000" stroke="#000" stroke-width="0.2" textLength="31.37" lengthAdjust="spacingAndGlyphs">PCL.</text></g>
<g transform="translate(289.75,360.3) rotate(0)"><text x="-4.94" y="4.50" font-size="13.04" font-weight="normal" fill="#000" stroke="#000" stroke-width="0.2" textLength="9.48" lengthAdjust="spacingAndGlyphs">1</text></g>
<g transform="translate(257.45,377.1) rotate(0)"><text x="-13.77" y="3.90" font-size="11.14" font-weight="normal" fill="#000" stroke="#000" stroke-width="0.32" textLength="27.72" lengthAdjust="spacingAndGlyphs">4.920</text></g>
<g transform="translate(288.0,377.1) rotate(0)"><text x="-10.00" y="3.90" font-size="11.14" font-weight="normal" fill="#000" stroke="#000" stroke-width="0.32" textLength="21.11" lengthAdjust="spacingAndGlyphs">AC.</text></g>
<g transform="translate(251.5,392.6) rotate(0)"><text x="-23.00" y="3.90" font-size="11.14" font-weight="normal" fill="#000" stroke="#000" stroke-width="0.32" textLength="46.21" lengthAdjust="spacingAndGlyphs">COMMON</text></g>
<g transform="translate(295.85,392.6) rotate(0)"><text x="-13.85" y="3.90" font-size="11.14" font-weight="normal" fill="#000" stroke="#000" stroke-width="0.32" textLength="27.67" lengthAdjust="spacingAndGlyphs">AREA</text></g>
<g transform="translate(267.1,404.3) rotate(0)"><text x="-39.61" y="3.70" font-size="10.57" font-weight="normal" fill="#000" stroke="#000" stroke-width="0.32" textLength="78.72" lengthAdjust="spacingAndGlyphs">DOC.16717565</text></g>
</svg></body></html>
